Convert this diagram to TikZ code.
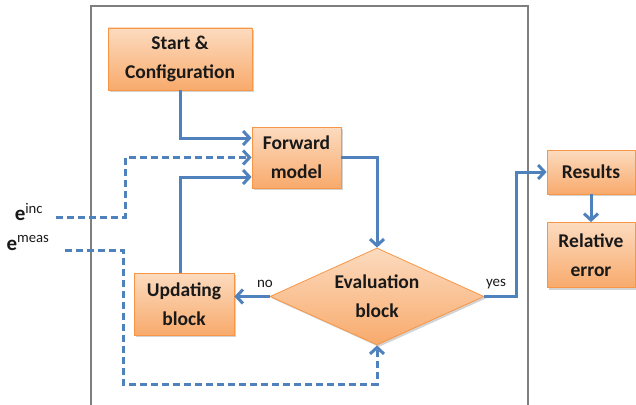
\documentclass[tikz,border=0pt]{standalone}
\usepackage{fontspec}
\setmainfont{Carlito}
\usetikzlibrary{shapes.geometric,arrows.meta,shadows}
\definecolor{boxedge}{HTML}{F79646}
\definecolor{boxtop}{HTML}{FCDBBF}
\definecolor{boxbot}{HTML}{F8AA6C}
\definecolor{flowblue}{HTML}{4F81BD}
\definecolor{framegray}{HTML}{7F7F7F}

\begin{document}
\begin{tikzpicture}[x=1pt,y=-1pt]
    % \draw[step=10pt,help lines] (0,0) grid (636,404);
    \useasboundingbox (0,0) rectangle (636,404);
    \tikzstyle{box}=[draw=boxedge,line width=0.8pt,top color=boxtop,bottom color=boxbot,
      drop shadow={opacity=0.35,shadow xshift=2pt,shadow yshift=-2pt},
      font=\fontsize{19.5}{29}\selectfont\bfseries,align=center,text=black!90,inner sep=0pt]
    \tikzstyle{decision}=[box,diamond,aspect=2.2]
    \tikzstyle{flow}=[draw=flowblue,line width=3pt,-{Straight Barb[length=6.5pt,width=14pt]}]
    \tikzstyle{dflow}=[flow,dash pattern=on 7pt off 4pt]
    \tikzstyle{lbl}=[font=\fontsize{15}{17}\selectfont,text=black!90,inner sep=0pt]
    \tikzstyle{elbl}=[font=\fontsize{21}{23}\selectfont,text=black!90,inner sep=0pt]

    % frame round the solver
    \draw[framegray,line width=1.3pt] (91,410) -- (91,6) -- (528,6) -- (528,410);

    \node[box,minimum width=144pt,minimum height=62pt] (start) at (180,59) {Start \&\\Configuration};
    \node[box,minimum width=89pt,minimum height=61pt] (fwd) at (296.5,157.5) {Forward\\model};
    \node[box,minimum width=100pt,minimum height=62pt] (upd) at (184,304) {Updating\\block};
    \node[decision,minimum width=214pt,minimum height=97pt] (eval) at (377,296.5) {Evaluation\\block};
    \node[box,minimum width=88pt,minimum height=44pt] (res) at (591,172) {Results};
    \node[box,minimum width=88pt,minimum height=65pt] (rel) at (591,255) {Relative\\error};

    \node[lbl] (no) at (265,284) {no};
    \node[lbl] (yes) at (496,284) {yes};
    \node[elbl] (inclbl) at (29,212) {\textbf{e}\textsuperscript{inc}};
    \node[elbl] (measlbl) at (28,243) {\textbf{e}\textsuperscript{meas}};
    \coordinate (incin) at (56,217);
    \coordinate (measin) at (65,250);

    \draw[flow] (start.south) |- ([yshift=19.5pt]fwd.west);
    \draw[dflow] (incin) -- ++(69,0) |- (fwd.west);
    \draw[flow] (start.south |- upd.north) |- ([yshift=-19.5pt]fwd.west);
    \draw[flow] (fwd.east) -| (eval.north);
    \draw[flow] (eval.west) -- (eval.west -| upd.east);
    \draw[flow] (eval.east) -- ++(32,0) |- (res.west);
    \draw[flow] (res) -- (rel);
    \draw[dflow] (measin) -- ++(58,0) -- ++(0,134) -| (eval.south);
\end{tikzpicture}
\end{document}
